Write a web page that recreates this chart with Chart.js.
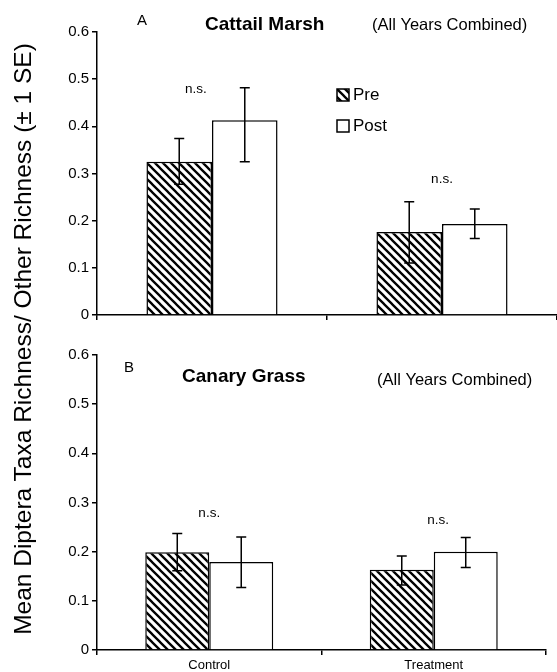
<!DOCTYPE html>
<html>
<head>
<meta charset="utf-8">
<script src="https://cdn.jsdelivr.net/npm/chart.js@4.4.0/dist/chart.umd.min.js"></script>
<style>
	body { margin: 0; background: #fff; }
	#wrap { position: relative; width: 557px; height: 672px; overflow: hidden; }
	canvas { position: absolute; left: 0; }
	#chartA { top: 0; }
	#chartB { top: 330px; }
	#ytitle {
		position: absolute; left: -297px; top: 324px; width: 640px; height: 30px;
		line-height: 30px; text-align: center; transform: rotate(-90deg);
		font-family: "Liberation Sans", Arial, sans-serif; font-size: 24.5px; color: #000;
	}
</style>
</head>
<body>
<div id="wrap">
	<canvas id="chartA" width="557" height="330"></canvas>
	<canvas id="chartB" width="557" height="342"></canvas>
	<div id="ytitle">Mean Diptera Taxa Richness/ Other Richness (± 1 SE)</div>
</div>
<script>
const categorias = ['Control', 'Treatment'];
const yTicks = [0, 0.1, 0.2, 0.3, 0.4, 0.5, 0.6];

// Cattail Marsh
const prePanelA = [0.325, 0.176];
const preLowA = [0.277, 0.110];
const preHighA = [0.374, 0.240];
const postPanelA = [0.413, 0.193];
const postLowA = [0.325, 0.162];
const postHighA = [0.482, 0.225];
const notaXA = [-0.07, 1];
const notaYA = [0.478, 0.287];

// Canary Grass
const prePanelB = [0.199, 0.163];
const preLowB = [0.161, 0.132];
const preHighB = [0.237, 0.191];
const postPanelB = [0.179, 0.200];
const postLowB = [0.127, 0.168];
const postHighB = [0.230, 0.229];
const notaXB = [0, 1.02];
const notaYB = [0.278, 0.264];

const FONT = '"Liberation Sans", Arial, sans-serif';

function crearRayado() {
	let c = document.createElement('canvas');
	c.width = 8; c.height = 8;
	let ctx = c.getContext('2d');
	ctx.fillStyle = '#fff';
	ctx.fillRect(0, 0, 8, 8);
	ctx.strokeStyle = '#000';
	ctx.lineWidth = 2.3;
	ctx.beginPath();
	ctx.moveTo(-2, -2); ctx.lineTo(10, 10);
	ctx.moveTo(-2, 6); ctx.lineTo(2, 10);
	ctx.moveTo(6, -2); ctx.lineTo(10, 2);
	ctx.stroke();
	return c;
}

const rayado = document.getElementById('chartA').getContext('2d').createPattern(crearRayado(), 'repeat');
const rayadoB = document.getElementById('chartB').getContext('2d').createPattern(crearRayado(), 'repeat');

const pluginErrores = {
	id: 'errores',
	afterDatasetsDraw(chart) {
		let ctx = chart.ctx;
		let y = chart.scales.y;
		ctx.save();
		ctx.strokeStyle = '#000';
		ctx.lineWidth = 1.5;
		chart.data.datasets.forEach((ds, i) => {
			chart.getDatasetMeta(i).data.forEach((bar, j) => {
				let top = y.getPixelForValue(ds.high[j]);
				let bot = y.getPixelForValue(ds.low[j]);
				ctx.beginPath();
				ctx.moveTo(bar.x, top); ctx.lineTo(bar.x, bot);
				ctx.moveTo(bar.x - 5, top); ctx.lineTo(bar.x + 5, top);
				ctx.moveTo(bar.x - 5, bot); ctx.lineTo(bar.x + 5, bot);
				ctx.stroke();
			});
		});
		ctx.restore();
	}
};

const pluginTextos = {
	id: 'textos',
	afterDraw(chart, args, opts) {
		let ctx = chart.ctx;
		let x = chart.scales.x;
		let y = chart.scales.y;
		ctx.save();
		ctx.fillStyle = '#000';
		ctx.textBaseline = 'middle';

		ctx.textAlign = 'center';
		ctx.font = '13.5px ' + FONT;
		opts.notaY.forEach((v, i) => {
			ctx.fillText('n.s.', x.getPixelForValue(opts.notaX[i]), y.getPixelForValue(v));
		});

		ctx.textAlign = 'left';
		ctx.font = '15px ' + FONT;
		ctx.fillText(opts.letra, opts.letraPos[0], opts.letraPos[1]);
		ctx.font = 'bold 19px ' + FONT;
		ctx.fillText(opts.titulo, opts.tituloPos[0], opts.tituloPos[1]);
		ctx.font = '16.5px ' + FONT;
		ctx.fillText('(All Years Combined)', opts.subPos[0], opts.subPos[1]);

		if (opts.leyenda) {
			let lx = 337;
			[['Pre', opts.relleno], ['Post', '#fff']].forEach((item, i) => {
				let ly = 89 + i * 31;
				ctx.fillStyle = item[1];
				ctx.fillRect(lx, ly, 12, 12);
				ctx.strokeStyle = '#000';
				ctx.lineWidth = 1.5;
				ctx.strokeRect(lx, ly, 12, 12);
				ctx.fillStyle = '#000';
				ctx.font = '17px ' + FONT;
				ctx.fillText(item[0], lx + 16, ly + 6.5);
			});
		}
		ctx.restore();
	}
};

function opcionesEjes(mostrarEtiquetas, altoX) {
	return {
		x: {
			grid: { display: true, drawOnChartArea: false, drawTicks: true, tickLength: 5, color: '#000', lineWidth: 1.5 },
			border: { color: '#000', width: 1.5 },
			ticks: { display: mostrarEtiquetas, color: '#000', padding: 3, font: { family: FONT, size: 13 } },
			afterFit: (s) => { s.height = altoX; }
		},
		y: {
			min: 0, max: 0.6,
			afterBuildTicks: (s) => { s.ticks = yTicks.map(v => ({ value: v })); },
			grid: { drawOnChartArea: false, drawTicks: true, tickLength: 5, color: '#000', lineWidth: 1.5 },
			border: { color: '#000', width: 1.5 },
			ticks: {
				color: '#000', padding: 3, font: { family: FONT, size: 15 },
				callback: (v) => v === 0 ? '0' : v.toFixed(1)
			},
			afterFit: (s) => { s.width = 97; }
		}
	};
}

function crearPanel(id, pre, preLow, preHigh, post, postLow, postHigh, relleno, textos, padding, altoX, etiquetas) {
	let canva = document.getElementById(id).getContext('2d');
	return new Chart(canva, {
		type: 'bar',
		data: {
			labels: categorias,
			datasets: [
				{ label: 'Pre', data: pre, low: preLow, high: preHigh, backgroundColor: relleno, borderColor: '#000', borderWidth: 1.5 },
				{ label: 'Post', data: post, low: postLow, high: postHigh, backgroundColor: '#fff', borderColor: '#000', borderWidth: 1.5 }
			]
		},
		options: {
			responsive: false,
			animation: false,
			categoryPercentage: 0.57,
			barPercentage: 1,
			layout: { padding: padding },
			scales: opcionesEjes(etiquetas, altoX),
			plugins: {
				legend: { display: false },
				tooltip: { enabled: false },
				textos: textos
			}
		},
		plugins: [pluginErrores, pluginTextos]
	});
}

crearPanel('chartA', prePanelA, preLowA, preHighA, postPanelA, postLowA, postHighA, rayado,
	{ notaX: notaXA, notaY: notaYA, letra: 'A', letraPos: [137, 21], titulo: 'Cattail Marsh', tituloPos: [205, 25],
	  subPos: [372, 25], leyenda: true, relleno: rayado },
	{ top: 32, right: 0, left: 0, bottom: 0 }, 15, false);

crearPanel('chartB', prePanelB, preLowB, preHighB, postPanelB, postLowB, postHighB, rayadoB,
	{ notaX: notaXB, notaY: notaYB, letra: 'B', letraPos: [124, 38], titulo: 'Canary Grass', tituloPos: [182, 47],
	  subPos: [377, 50], leyenda: false },
	{ top: 25, right: 11, left: 0, bottom: 0 }, 22, true);
</script>
</body>
</html>
